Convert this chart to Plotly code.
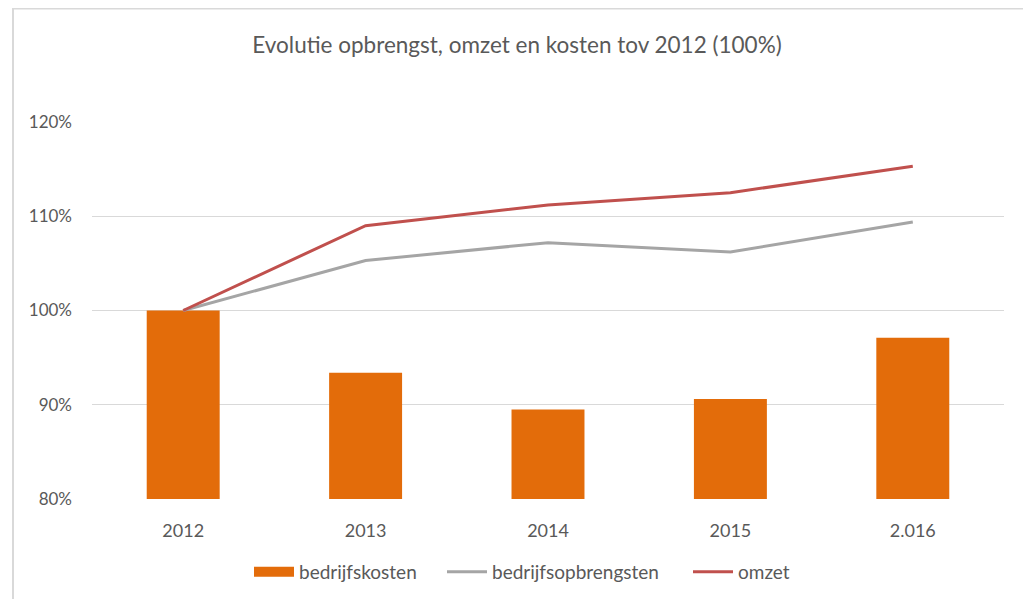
import plotly.graph_objects as go

years = ["2012", "2013", "2014", "2015", "2.016"]
bedrijfskosten = [1.000, 0.934, 0.895, 0.906, 0.971]
bedrijfsopbrengsten = [1.000, 1.053, 1.072, 1.062, 1.094]
omzet = [1.000, 1.090, 1.112, 1.125, 1.153]
y_ticks = [0.8, 0.9, 1.0, 1.1, 1.2]

ORANGE = "#E36C0A"
GRAY = "#A5A5A5"
RED = "#C0504D"
TXT = "#595959"
FONT = "Lato"

# page has an 8px body margin, so the figure is sized to the remaining window
W, H = 1023, 591
L, R, T, B = 84, 27, 114, 100
pw, ph = W - L - R, H - T - B

fig = go.Figure()
fig.add_trace(go.Bar(x=years, y=bedrijfskosten, marker_color=ORANGE,
                     marker_line_width=0, name="bedrijfskosten", showlegend=False))
fig.add_trace(go.Scatter(x=[None], y=[None], mode="lines", name="bedrijfskosten",
                         line=dict(color=ORANGE, width=10), legend="legend"))
fig.add_trace(go.Scatter(x=years, y=bedrijfsopbrengsten, mode="lines",
                         name="bedrijfsopbrengsten", line=dict(color=GRAY, width=3),
                         legend="legend2"))
fig.add_trace(go.Scatter(x=years, y=omzet, mode="lines", name="omzet",
                         line=dict(color=RED, width=3), legend="legend3"))

# chart frame
fig.add_shape(type="rect", xref="paper", yref="paper",
              x0=(5 - L) / pw, x1=(1020 - L) / pw,
              y0=(H - B - 640) / ph, y1=(H - B - 0.5) / ph,
              line=dict(color="#D9D9D9", width=2), layer="below")


def leg(x_px):
    return dict(orientation="h", x=x_px / W, xref="container", xanchor="left",
                y=(H - 564) / H, yref="container", yanchor="middle",
                font=dict(family=FONT, size=19, color=TXT), itemwidth=40,
                bgcolor="rgba(0,0,0,0)")


fig.update_layout(
    width=W, height=H,
    margin=dict(l=L, r=R, t=T, b=B),
    paper_bgcolor="white", plot_bgcolor="white",
    font=dict(family=FONT, color=TXT),
    title=dict(text="Evolutie opbrengst, omzet en kosten tov 2012 (100%)",
               x=509 / W, xref="container", xanchor="center", y=1 - 37 / H, yanchor="middle",
               font=dict(family=FONT, size=22.5, color=TXT)),
    bargap=0.6,
    showlegend=True,
    legend=leg(247 - 6),
    legend2=leg(441 - 7),
    legend3=leg(687 - 7),
    xaxis=dict(type="category", showgrid=False, showline=False, ticks="",
               tickfont=dict(family=FONT, size=18, color=TXT), ticklabelstandoff=19),
    yaxis=dict(range=[0.8, 1.2], tickvals=y_ticks, tickformat=".0%",
               showgrid=True, gridcolor="#D9D9D9", gridwidth=1, zeroline=False,
               showline=False, ticks="", tickfont=dict(family=FONT, size=17, color=TXT),
               ticklabelstandoff=19),
)

fig.write_html("out.html")
